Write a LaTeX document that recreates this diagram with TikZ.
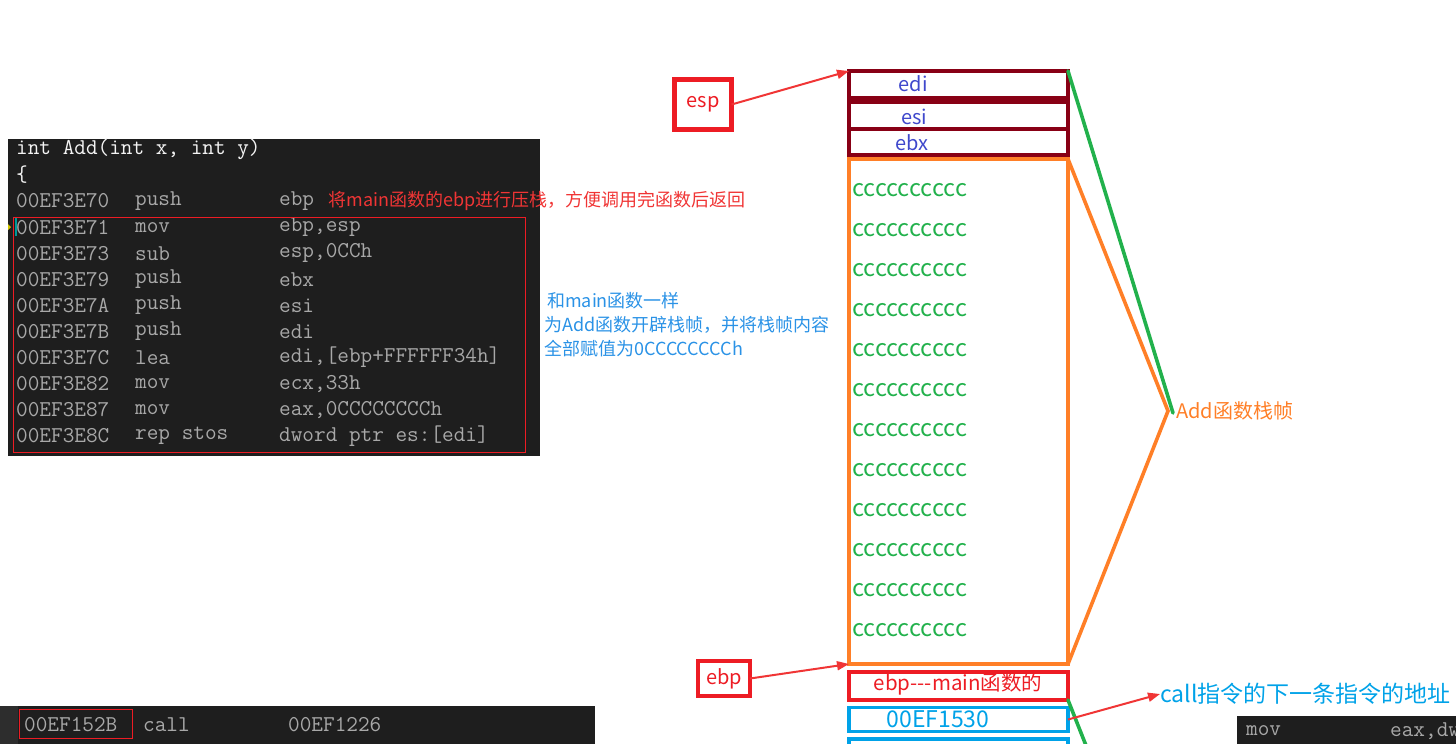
\documentclass[tikz,border=0pt]{standalone}
\usepackage{fontspec}
\newfontfamily\cjk{Noto Sans CJK SC}
\usepackage{xcolor}
\usepackage{tikz}
\usetikzlibrary{arrows.meta,positioning}
\definecolor{vsbg}{HTML}{1E1E1E}
\definecolor{vsside}{HTML}{2D2D2D}
\definecolor{codegray}{HTML}{A8A8A8}
\definecolor{codewhite}{HTML}{F4F4F4}
\definecolor{stackred}{HTML}{880015}
\definecolor{pred}{HTML}{ED1C24}
\definecolor{porange}{HTML}{FF7F27}
\definecolor{pgreen}{HTML}{22B14C}
\definecolor{pblue}{HTML}{00A2E8}
\definecolor{pindigo}{HTML}{3F48CC}
\definecolor{notered}{HTML}{F03535}
\definecolor{noteblue}{HTML}{2A92E6}

\begin{document}
\begin{tikzpicture}[x=1pt,y=-1pt,
  code/.style={anchor=west,inner sep=0pt,font=\ttfamily\fontsize{22.6}{24}\selectfont,text=codegray},
  lbl/.style={inner sep=0pt,font=\cjk\fontsize{20}{24}\selectfont},
  slot/.style={draw=#1,line width=3.6pt,minimum width=219pt,inner sep=0pt,outer sep=0pt},
  tag/.style={draw=pred,line width=4.5pt,inner sep=0pt,outer sep=0pt,text=pred,
              font=\cjk\fontsize{20}{24}\selectfont},
  ptr/.style={-{Triangle[length=12pt,width=9pt]},line width=2pt,draw=notered},
  brace/.style={line width=3.6pt,line cap=round}
]
\useasboundingbox (0,0) rectangle (1456,744);
% Disassembly window
\fill[vsbg] (8,139) rectangle (540,456);
\node[code,text=codewhite] (head) at (16,149) {int Add(int x, int y)};
\node[code,text=codewhite] (brace) at (16,175) {\{};
\foreach \ad/\mn/\op [count=\i from 0] in {00EF3E70/push/ebp, 00EF3E71/mov/{ebp,esp},
    00EF3E73/sub/{esp,0CCh}, 00EF3E79/push/ebx, 00EF3E7A/push/esi, 00EF3E7B/push/edi,
    00EF3E7C/lea/{edi,[ebp+FFFFFF34h]}, 00EF3E82/mov/{ecx,33h},
    00EF3E87/mov/{eax,0CCCCCCCCh}, 00EF3E8C/rep stos/{dword ptr es:[edi]}}
{
  \node[code] (a\i) at (16,201+26.1*\i) {\ad};
  \node[code] (m\i) at (135,201+26.1*\i) {\mn};
  \node[code] (o\i) at (279,201+26.1*\i) {\op};
}
\draw[pred,line width=1pt] (13,217) rectangle (525,452);
\draw[teal!80!cyan,line width=1.5pt] (16,218) -- (16,236);
\fill[yellow!60!olive] (8,224) -- (11,227) -- (8,230) -- cycle;
% Notes on the code
\node[lbl,text=notered,anchor=west,font=\cjk\fontsize{18}{24}\selectfont,right=14pt of o0] (push)
  {将main函数的ebp进行压栈，方便调用完函数后返回};
\node[lbl,text=noteblue,anchor=north west,align=left,font=\cjk\fontsize{18}{24}\selectfont] (alloc) at (544,292)
  {\,和main函数一样\\为Add函数开辟栈帧，并将栈帧内容\\全部赋值为0CCCCCCCCh};

% Stack
\node[slot=stackred,minimum height=27pt] (edi) at (958.5,84.5) {};
\node[slot=stackred,minimum height=27pt] (esi) at (958.5,115.5) {};
\node[slot=stackred,minimum height=26pt] (ebx) at (958.5,142) {};
\node[lbl,text=pindigo] (tedi) at (913,84) {edi};
\node[lbl,text=pindigo] (tesi) at (914,117) {esi};
\node[lbl,text=pindigo] (tebx) at (912,143) {ebx};
\node[slot=porange,minimum height=505pt] (frame) at (958.5,411.5) {};
\foreach \k in {0,...,11}
  \node[lbl,text=pgreen,anchor=west,font=\cjk\fontsize{23.5}{26}\selectfont] (c\k) at (852,190+40*\k) {cccccccccc};
\node[slot=pred,minimum height=28pt] (oldebp) at (958.5,686) {};
\node[lbl,text=pred,font=\cjk\fontsize{20.5}{24}\selectfont] (toldebp) at (958,684) {ebp---main函数的};
\node[slot=pblue,minimum height=24pt] (ret) at (958.5,719.5) {};
\node[lbl,text=pblue,font=\cjk\fontsize{23}{26}\selectfont] (tret) at (938,719) {00EF1530};
\draw[pblue,line width=3.6pt] (849,747) -- (849,739) -- (1068,739) -- (1068,747);

% Register pointers
\node[tag,minimum width=57pt,minimum height=50pt] (esp) at (703,104.5) {esp};
\node[tag,minimum width=52pt,minimum height=35pt] (ebp) at (724,678.5) {ebp};
\draw[ptr] (esp.east) -- (edi.north west);
\draw[ptr] (ebp.east) -- (frame.south west);

% Frame brackets
\coordinate (otip) at (1168,411);
\coordinate (gtip) at (1173,413);
\node[lbl,text=porange,anchor=west] (addframe) at (1176,411) {Add函数栈帧};
\draw[brace,porange] (frame.north east) -- (otip) -- (frame.south east);
\draw[brace,pgreen] (edi.north east) -- (gtip);
\coordinate (gend) at (1087,748);
\draw[brace,pgreen] (oldebp.south east) -- (gend);

% Return address note
\node[lbl,text=pblue,anchor=west,font=\cjk\fontsize{23}{26}\selectfont] (callnote) at (1160,694) {call指令的下一条指令的地址};
\draw[ptr] (ret.east) -- (callnote.west);

% Caller window
\fill[vsbg] (0,706) rectangle (595,744);
\fill[vsside] (0,706) rectangle (18,744);
\node[code] (caddr) at (24,725) {00EF152B};
\node[code] (cmn) at (143,725) {call};
\node[code] (cop) at (288,725) {00EF1226};
\draw[pred,line width=1pt] (19,709) rectangle (132,738);
\fill[vsbg] (1237,716) rectangle (1456,744);
\node[code] (nmn) at (1246,731) {mov};
\node[code] (nop) at (1390,731) {eax,dw};
\end{tikzpicture}
\end{document}
